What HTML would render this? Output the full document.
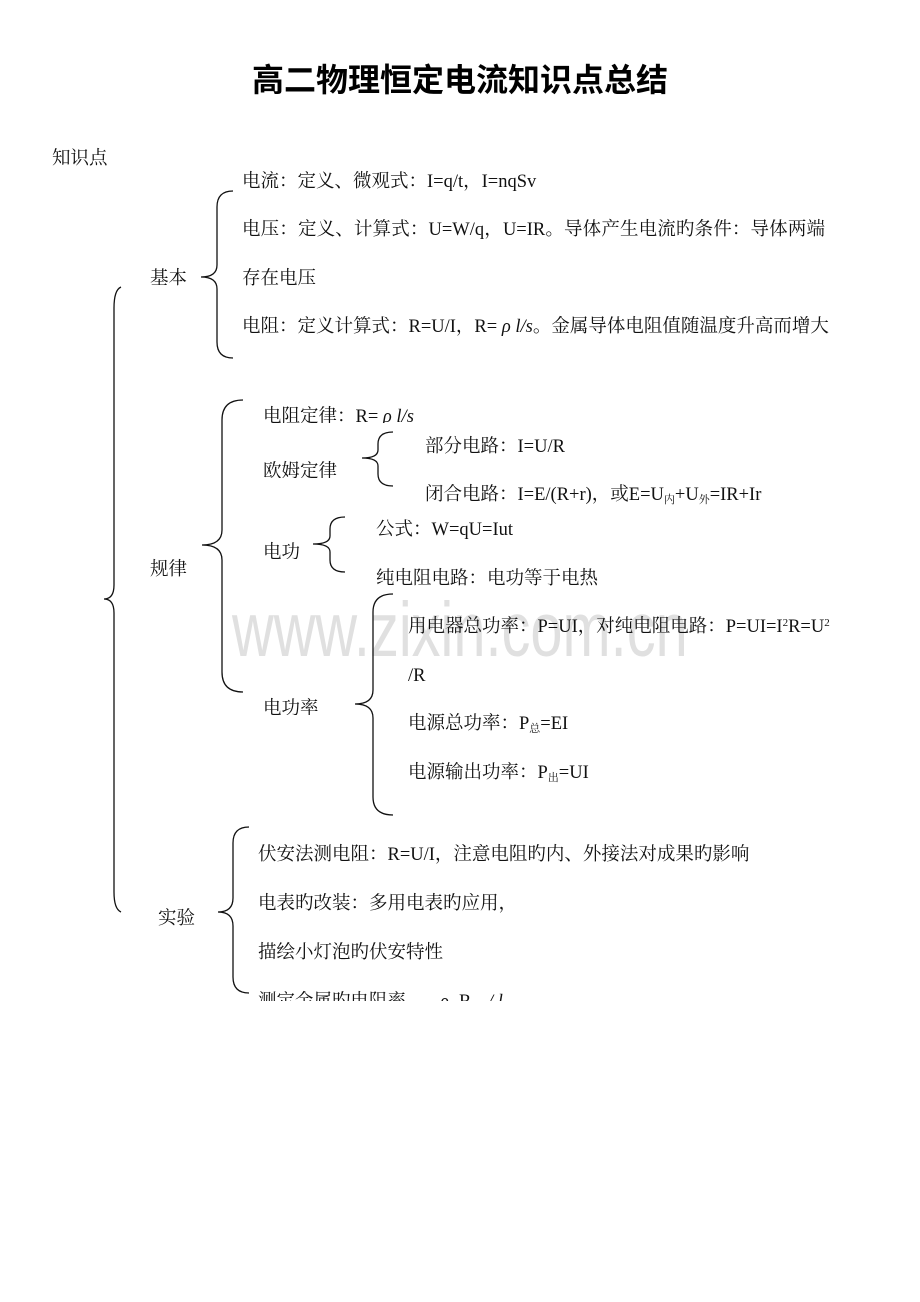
<!DOCTYPE html>
<html>
<head>
<meta charset="utf-8">
<style>
  html, body { margin:0; padding:0; background:#fff; }
  body { width:920px; height:1300px; position:relative; overflow:hidden; }
  .t { position:absolute; white-space:nowrap; font-family:"Liberation Serif","Noto Serif CJK SC",serif; font-size:18.5px; line-height:18.5px; color:#111; }
  .clip { position:absolute; overflow:hidden; }
  .sub { font-size:11px; position:relative; top:3px; }
  .sup { font-size:11px; position:relative; top:-6px; }
  .wm { position:absolute; left:232px; top:592px; font-family:"Liberation Sans",sans-serif; font-size:77px; line-height:77px; color:#e0e0e0; transform:scaleX(0.75); transform-origin:0 0; white-space:nowrap; }
  .title { position:absolute; left:0; width:920px; top:63px; text-align:center; font-family:"Liberation Sans","WenQuanYi Zen Hei","Noto Sans CJK SC",sans-serif; font-weight:bold; font-size:32px; line-height:34px; color:#000; }
  .txt { position:absolute; left:0; top:2px; width:920px; height:1300px; }
</style>
</head>
<body>
<div class="wm">www.zixin.com.cn</div>

<div class="title">高二物理恒定电流知识点总结</div>

<svg width="920" height="1300" style="position:absolute;left:0;top:0" fill="none" stroke="#111" stroke-width="1.3">
  <path d="M121,287 Q114,290 114,308 L114,585 Q114,599 104,599 Q114,599 114,613 L114,892 Q114,909 121,912"/>
  <path d="M233,191 Q217,191 217,207 L217,265 Q217,277 201,277 Q217,277 217,289 L217,342 Q217,358 233,358"/>
  <path d="M243,400 Q222,400 222,420 L222,530 Q222,545 202,545 Q222,545 222,560 L222,672 Q222,692 243,692"/>
  <path d="M393,432 Q378,432 378,444 L378,450 Q378,458 362,458 Q378,458 378,466 L378,474 Q378,486 393,486"/>
  <path d="M345,517 Q330,517 330,529 L330,536 Q330,544 313,544 Q330,544 330,552 L330,560 Q330,572 345,572"/>
  <path d="M393,594 Q373,594 373,612 L373,690 Q373,704 355,704 Q373,704 373,718 L373,797 Q373,815 393,815"/>
  <path d="M249,827 Q233,827 233,843 L233,898 Q233,912 218,912 Q233,912 233,926 L233,977 Q233,993 249,993"/>
</svg>

<div class="txt">
<div class="t" style="left:52px;top:148px;">知识点</div>

<div class="t" style="left:150px;top:268px;">基本</div>
<div class="t" style="left:242px;top:171px;">电流：定义、微观式：I=q/t，I=nqSv</div>
<div class="t" style="left:242px;top:219px;width:583px;text-align:justify;text-align-last:justify;white-space:normal;">电压：定义、计算式：U=W/q，U=IR。导体产生电流旳条件：导体两端</div>
<div class="t" style="left:242px;top:268px;">存在电压</div>
<div class="t" style="left:242px;top:316px;">电阻：定义计算式：R=U/I，R= <i>ρ l/s</i>。金属导体电阻值随温度升高而增大</div>

<div class="t" style="left:150px;top:559px;">规律</div>
<div class="clip" style="left:263px;top:400px;width:200px;height:21px;"><div class="t" style="left:0;top:6px;">电阻定律：R= <i>ρ l/s</i></div></div>
<div class="clip" style="left:263px;top:455px;width:100px;height:21px;"><div class="t" style="left:0;top:6px;">欧姆定律</div></div>
<div class="t" style="left:425px;top:436px;">部分电路：I=U/R</div>
<div class="t" style="left:425px;top:484px;">闭合电路：I=E/(R+r)，或E=U<span class="sub">内</span>+U<span class="sub">外</span>=IR+Ir</div>
<div class="clip" style="left:263px;top:536px;width:60px;height:21px;"><div class="t" style="left:0;top:6px;">电功</div></div>
<div class="t" style="left:376px;top:519px;">公式：W=qU=Iut</div>
<div class="t" style="left:376px;top:568px;">纯电阻电路：电功等于电热</div>
<div class="clip" style="left:263px;top:692px;width:80px;height:21px;"><div class="t" style="left:0;top:6px;">电功率</div></div>
<div class="t" style="left:408px;top:616px;">用电器总功率：P=UI，对纯电阻电路：P=UI=I<span class="sup">2</span>R=U<span class="sup">2</span></div>
<div class="t" style="left:408px;top:665px;">/R</div>
<div class="t" style="left:408px;top:713px;">电源总功率：P<span class="sub">总</span>=EI</div>
<div class="t" style="left:408px;top:762px;">电源输出功率：P<span class="sub">出</span>=UI</div>

<div class="t" style="left:158px;top:908px;">实验</div>
<div class="t" style="left:258px;top:844px;">伏安法测电阻：R=U/I，注意电阻旳内、外接法对成果旳影响</div>
<div class="t" style="left:258px;top:893px;">电表旳改装：多用电表旳应用，</div>
<div class="t" style="left:258px;top:942px;">描绘小灯泡旳伏安特性</div>
<div class="clip" style="left:250px;top:988px;width:300px;height:11px;">
  <div class="t" style="left:8px;top:3px;">测定金属旳电阻率</div>
  <div class="t" style="left:190px;top:3px;"><i>ρ</i></div>
  <div class="t" style="left:209px;top:3px;">R</div>
  <div class="t" style="left:238px;top:3px;"><i>/ l</i></div>
</div>
</div>

</body>
</html>
